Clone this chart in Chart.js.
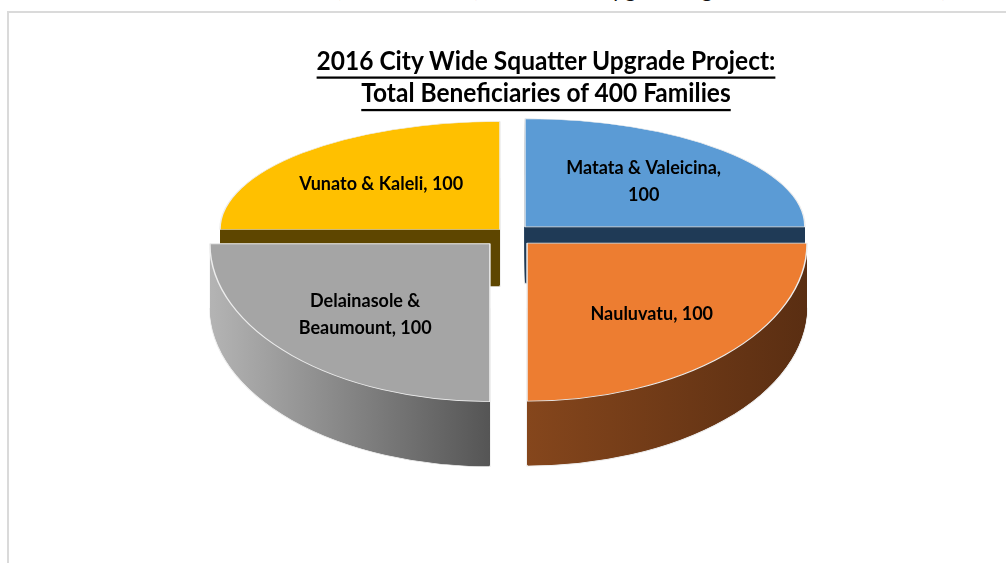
<!DOCTYPE html>
<html>
<head>
<meta charset="utf-8">
<script src="https://cdn.jsdelivr.net/npm/chart.js@4"></script>
<style>
  html, body { margin: 0; padding: 0; background: #fff; }
  body { width: 1006px; height: 563px; position: relative; overflow: hidden; font-family: Lato, "Open Sans", sans-serif; }
  #lead { position: absolute; left: 0; top: -23px; width: 1006px; height: 30px; font-size: 21px; line-height: 24px; color: #111; }
  #lead span { position: absolute; top: 0; white-space: pre; }
  #frame { position: absolute; left: 7px; top: 11px; right: -10px; bottom: -10px; border-left: 2px solid #dadada; border-top: 2px solid #dadada; }
  #title { position: absolute; left: 46px; width: 1000px; top: 44px; text-align: center; font-weight: 700; font-size: 24.5px; line-height: 28.5px; color: #000; transform: scaleY(1.12); transform-origin: top; text-decoration: underline; text-decoration-thickness: 1.8px; text-underline-offset: 5.5px; }
  #pie { position: absolute; left: 0; top: 0; }
</style>
</head>
<body>
<div id="lead"><span style="right:670px">Table 2: Total Beneficiaries </span><span style="left:336px">(Informal Areas)</span><span style="left:494px"> under the </span><span style="left:598px">Upgrade</span><span style="left:670px">Programme for the 2016 Year)</span></div>
<div id="frame"></div>
<canvas id="pie" width="1006" height="563"></canvas>
<div id="title">2016 City Wide Squatter Upgrade Project:<br>Total Beneficiaries of 400 Families</div>
<script>
(() => {
  "use strict";

  // ── Data ───────────────────────────────────────────────────
  const categories = ["Matata & Valeicina", "Nauluvatu", "Delainasole & Beaumount", "Vunato & Kaleli"];
  const families = [100, 100, 100, 100];

  // ── Styles ─────────────────────────────────────────────────
  const topColors = ["#5B9BD5", "#ED7D31", "#A5A5A5", "#FFC000"];
  const sideFrom = ["#1f3a56", "#85461c", "#b4b4b4", "#5e4600"];
  const sideTo = ["#1f3a56", "#5a2e12", "#555555", "#5e4600"];
  const explode = [90, 102, 108, 51];

  const TILT_BACK = 0.386;
  const TILT_FRONT = 0.564;
  const DEPTH_BACK = 57;
  const DEPTH_FRONT = 65;
  const EDGE = "#ededed";
  const LABEL_FONT = "700 18px Lato, 'Open Sans', sans-serif";
  const LABEL_STRETCH = 1.1;
  const LABEL_LINE = 24.5;
  const LABEL_WRAP = 180;

  const mid = (p) => (p.startAngle + p.endAngle) / 2;

  function geom(arc) {
    const p = arc.getProps(["x", "y", "startAngle", "endAngle", "outerRadius"], true);
    const h = mid(p);
    const front = Math.sin(h) > 0;
    const off = (arc.options.offset || 0) / 4;
    return {
      p, h, front,
      sy: front ? TILT_FRONT : TILT_BACK,
      depth: front ? DEPTH_FRONT : DEPTH_BACK,
      cx: p.x + Math.cos(h) * off,
      cy: p.y + Math.sin(h) * off
    };
  }

  function drawSlice(ctx, arc, i) {
    const g = geom(arc);
    const { p } = g;
    ctx.save();
    ctx.translate(0, p.y);
    ctx.scale(1, g.sy);
    ctx.translate(0, -p.y);

    // horizontal extent of the slice for the side gradient
    const cs = [Math.cos(p.startAngle), Math.cos(p.endAngle), 0];
    if (p.startAngle <= Math.PI && p.endAngle >= Math.PI) cs.push(-1);
    if (p.startAngle <= 0 && p.endAngle >= 0) cs.push(1);
    const x0 = g.cx + Math.min(...cs) * p.outerRadius;
    const x1 = g.cx + Math.max(...cs) * p.outerRadius;
    const grad = ctx.createLinearGradient(x0, 0, x1, 0);
    grad.addColorStop(0, sideFrom[i]);
    grad.addColorStop(1, sideTo[i]);

    for (let k = g.depth; k >= 1; k--) {
      const yk = g.cy + k / g.sy;
      ctx.beginPath();
      ctx.moveTo(g.cx, yk);
      ctx.arc(g.cx, yk, p.outerRadius, p.startAngle, p.endAngle);
      ctx.closePath();
      ctx.fillStyle = grad;
      ctx.fill();
      if (k === g.depth) {
        ctx.strokeStyle = EDGE;
        ctx.lineWidth = 1.5;
        ctx.stroke();
      }
    }
    arc.draw(ctx);
    ctx.restore();
  }

  function wrap(ctx, text) {
    const words = text.split(" ");
    const lines = [];
    let cur = "";
    words.forEach((w) => {
      const test = cur ? cur + " " + w : w;
      if (cur && ctx.measureText(test).width > LABEL_WRAP) {
        lines.push(cur);
        cur = w;
      } else {
        cur = test;
      }
    });
    if (cur) lines.push(cur);
    return lines;
  }

  const pie3d = {
    id: "pie3d",
    beforeDatasetsDraw(chart) {
      const ctx = chart.ctx;
      const arcs = chart.getDatasetMeta(0).data;
      const order = arcs.map((_, i) => i)
        .sort((a, b) => Math.sin(mid(arcs[a])) - Math.sin(mid(arcs[b])));
      order.forEach((i) => drawSlice(ctx, arcs[i], i));
      return false;
    },
    afterDraw(chart) {
      const ctx = chart.ctx;
      const arcs = chart.getDatasetMeta(0).data;
      ctx.save();
      ctx.font = LABEL_FONT;
      ctx.fillStyle = "#000";
      ctx.textAlign = "center";
      ctx.textBaseline = "middle";
      arcs.forEach((arc, i) => {
        const g = geom(arc);
        const r = g.p.outerRadius * (g.front ? 0.63 : 0.6);
        const x = g.cx + Math.cos(g.h) * r;
        const y = g.p.y + (g.cy + Math.sin(g.h) * r - g.p.y) * g.sy;
        const lines = wrap(ctx, categories[i] + ", " + families[i]);
        ctx.save();
        ctx.translate(x, y);
        ctx.scale(1, LABEL_STRETCH);
        lines.forEach((ln, j) => {
          ctx.fillText(ln, 0, (j - (lines.length - 1) / 2) * LABEL_LINE);
        });
        ctx.restore();
      });
      ctx.restore();
    }
  };

  new Chart(document.getElementById("pie"), {
    type: "pie",
    data: {
      labels: categories,
      datasets: [{
        data: families,
        backgroundColor: topColors,
        borderColor: EDGE,
        borderWidth: 1.5,
        offset: explode
      }]
    },
    options: {
      responsive: false,
      animation: false,
      devicePixelRatio: 1,
      radius: 280,
      layout: { padding: { left: 12, right: 0, top: 0, bottom: 97 } },
      plugins: {
        legend: { display: false },
        tooltip: { enabled: false },
        title: { display: false }
      }
    },
    plugins: [pie3d]
  });
})();
</script>
</body>
</html>
